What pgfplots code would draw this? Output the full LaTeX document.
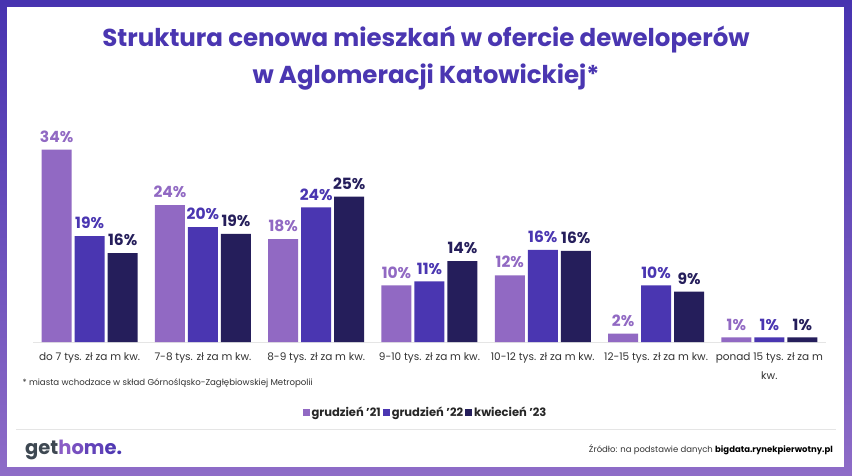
\documentclass[border=0pt]{standalone}
\usepackage{fontspec}
\setmainfont{Poppins}
\usepackage{pgfplots}
\pgfplotsset{compat=1.18}
\definecolor{cLight}{HTML}{9169C3}
\definecolor{cMid}{HTML}{4A36B1}
\definecolor{cDark}{HTML}{251E5B}
\definecolor{frameTop}{HTML}{4733B0}
\definecolor{frameBot}{HTML}{8E6CC7}
\definecolor{txt}{HTML}{333333}
\definecolor{logoGray}{HTML}{3E4852}
\definecolor{logoA}{HTML}{8A5CC6}
\definecolor{logoB}{HTML}{774FC0}
\definecolor{logoC}{HTML}{6243B9}
\definecolor{logoD}{HTML}{5139B3}

\begin{document}
\begin{tikzpicture}
% frame and card
\shade[top color=frameTop, bottom color=frameBot] (0pt,0pt) rectangle (852pt,475pt);
\fill[white] (7pt,8pt) rectangle (844pt,468pt);
\node[font=\fontsize{24.5}{37}\selectfont\bfseries, text=cMid, align=center] at (426pt,417pt)
  {Struktura cenowa mieszkań w ofercie deweloperów\\w Aglomeracji Katowickiej*};

\begin{axis}[
    at={(33pt,133pt)}, anchor=south west,
    scale only axis, width=793pt, height=203.6pt,
    ybar=3pt, bar width=30pt,
    xmin=-0.5, xmax=6.5, ymin=0, ymax=36,
    axis y line=none, axis x line*=bottom,
    x axis line style={draw=black!10, line width=1pt},
    major tick length=0pt,
    xtick={0,...,6},
    xticklabels={do 7 tys. zł za m kw., 7-8 tys. zł za m kw., 8-9 tys. zł za m kw.,
      9-10 tys. zł za m kw., 10-12 tys. zł za m kw., 12-15 tys. zł za m kw.,
      ponad 15 tys. zł za m\\kw.},
    xticklabel style={font=\fontsize{10.5}{19}\selectfont, text=txt, align=center, anchor=north, yshift=-7.5pt},
    clip=false,
    point meta=explicit,
    /pgf/number format/assume math mode=true,
    nodes near coords={\pgfmathprintnumber[fixed,precision=0]{\pgfplotspointmeta}\%},
    every node near coord/.append style={font=\fontsize{15.5}{18}\selectfont\bfseries, inner sep=2pt, yshift=5pt},
    legend columns=3,
    legend style={draw=none, fill=none, at={(0.495,-0.345)}, anchor=center,
      font=\fontsize{11.5}{14}\selectfont\bfseries, text=black!85,
      /tikz/every even column/.append style={column sep=0pt}},
    legend image code/.code={\fill[#1] (1pt,-3.5pt) rectangle (8pt,3.5pt);},
]
\addplot[fill=cLight, draw=none, every node near coord/.append style={text=cLight}] coordinates {
    (0,34) [34] (1,24.2) [24] (2,18.2) [18] (3,10) [10] (4,11.8) [12] (5,1.5) [2] (6,0.8) [1]
};
\addplot[fill=cMid, draw=none, every node near coord/.append style={text=cMid}] coordinates {
    (0,18.7) [19] (1,20.3) [20] (2,23.8) [24] (3,10.7) [11] (4,16.3) [16] (5,10) [10] (6,0.8) [1]
};
\addplot[fill=cDark, draw=none, every node near coord/.append style={text=cDark}] coordinates {
    (0,15.7) [16] (1,19.1) [19] (2,25.7) [25] (3,14.3) [14] (4,16.1) [16] (5,8.9) [9] (6,0.8) [1]
};
\legend{grudzień '21\hspace{11pt}, grudzień '22\hspace{11pt}, kwiecień '23}
\end{axis}

\node[anchor=west, font=\fontsize{8.6}{10}\selectfont, text=txt] at (19pt,92pt)
  {* miasta wchodzace w skład Górnośląsko-Zagłębiowskiej Metropolii};
\draw[black!10, line width=0.8pt] (16pt,46pt) -- (836pt,46pt);
\node[anchor=west, font=\fontsize{19.5}{24}\selectfont\bfseries, inner sep=0pt] at (25pt,25pt)
  {\textcolor{logoGray}{get}\textcolor{logoA}{h}\textcolor{logoB}{o}\textcolor{logoC}{m}\textcolor{logoD}{e}\textcolor{cMid}{.}};
\node[anchor=east, font=\fontsize{8.5}{10}\selectfont, text=txt, inner sep=0pt] at (833pt,25pt)
  {Źródło: na podstawie danych \textbf{\color{black}bigdata.rynekpierwotny.pl}};
\end{tikzpicture}
\end{document}
